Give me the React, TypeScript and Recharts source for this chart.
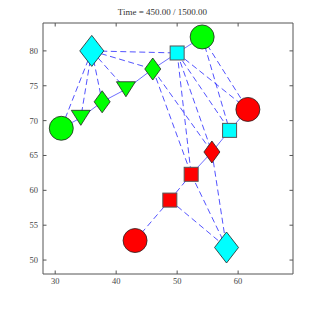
import { ScatterChart, Scatter, XAxis, YAxis } from 'recharts';

// agents (node id, position, marker kind, team colour)
const nodeIds = ['A', 'B', 'C', 'D', 'E', 'F', 'G', 'H', 'I', 'J', 'K', 'L', 'M', 'N', 'O'];
const nodeX = [36.0, 31.0, 34.2, 37.7, 41.6, 46.0, 50.0, 54.1, 61.6, 58.6, 55.7, 52.3, 48.8, 43.1, 58.1];
const nodeY = [80.0, 68.9, 70.4, 72.7, 74.5, 77.4, 79.7, 82.0, 71.6, 68.6, 65.5, 62.3, 58.6, 52.8, 51.8];
const nodeShape = ['bigDiamond', 'circle', 'triangle', 'diamond', 'triangle', 'diamond', 'square', 'circle', 'circle', 'square', 'diamond', 'square', 'square', 'circle', 'bigDiamond'];
const nodeTeam = ['cyan', 'green', 'green', 'green', 'green', 'green', 'cyan', 'green', 'red', 'cyan', 'red', 'red', 'red', 'red', 'cyan'];

// links between agents
const solidEdges = [
  ['B', 'C'], ['C', 'D'], ['D', 'E'], ['E', 'F'], ['F', 'G'], ['G', 'H'],
  ['L', 'K'], ['K', 'J'], ['J', 'I'],
];
const dashedEdges = [
  ['A', 'B'], ['A', 'C'], ['A', 'D'], ['A', 'E'], ['A', 'F'], ['A', 'G'],
  ['G', 'L'], ['G', 'K'], ['G', 'J'], ['G', 'I'],
  ['F', 'L'], ['F', 'K'],
  ['H', 'J'], ['H', 'I'],
  ['N', 'M'], ['M', 'L'],
  ['M', 'O'], ['L', 'O'], ['K', 'O'],
];

const xTicks = [30, 40, 50, 60];
const yTicks = [50, 55, 60, 65, 70, 75, 80];
const title = 'Time = 450.00 / 1500.00';

const teamColors: Record<string, string> = { green: '#00ff00', cyan: '#00ffff', red: '#ff0000' };
const frame = '#555';
const edgeColor = '#1a1aff';
const font = '"Liberation Serif", "DejaVu Serif", serif';

const nodes = nodeIds.map((id, i) => ({
  id,
  x: nodeX[i],
  y: nodeY[i],
  shape: nodeShape[i],
  team: nodeTeam[i],
}));

const pt = (id: string) => nodes.find((n) => n.id === id)!;

const NodeMarker = (props: any) => {
  const { cx, cy, payload } = props;
  const fill = teamColors[payload.team];
  const stroke = '#222';
  switch (payload.shape) {
    case 'circle':
      return <circle cx={cx} cy={cy} r={12} fill={fill} stroke={stroke} strokeWidth={0.8} />;
    case 'square':
      return <rect x={cx - 7} y={cy - 7} width={14} height={14} fill={fill} stroke="#555" strokeWidth={1} />;
    case 'triangle':
      return (
        <polygon
          points={`${cx - 9.5},${cy - 7.5} ${cx + 9.5},${cy - 7.5} ${cx},${cy + 7.5}`}
          fill={fill}
          stroke={stroke}
          strokeWidth={0.8}
        />
      );
    case 'bigDiamond':
      return (
        <polygon
          points={`${cx},${cy - 15.5} ${cx + 12},${cy} ${cx},${cy + 15.5} ${cx - 12},${cy}`}
          fill={fill}
          stroke={stroke}
          strokeWidth={0.8}
        />
      );
    default:
      return (
        <polygon
          points={`${cx},${cy - 11} ${cx + 8},${cy} ${cx},${cy + 11} ${cx - 8},${cy}`}
          fill={fill}
          stroke={stroke}
          strokeWidth={0.8}
        />
      );
  }
};

const NoMarker = () => <g />;

const BottomTick = (props: any) => {
  const { x, y, payload } = props;
  return (
    <g>
      <line x1={x} x2={x} y1={y - 10} y2={y - 13.5} stroke={frame} />
      <text x={x} y={y} textAnchor="middle" fontSize={8.5} fill="#444" fontFamily={font}>
        {payload.value}
      </text>
    </g>
  );
};

const LeftTick = (props: any) => {
  const { x, y, payload } = props;
  return (
    <g>
      <line x1={x + 5} x2={x + 8.5} y1={y} y2={y} stroke={frame} />
      <text x={x} y={y + 3} textAnchor="end" fontSize={8.5} fill="#444" fontFamily={font}>
        {payload.value}
      </text>
    </g>
  );
};

const TopTick = (props: any) => {
  const { x, y } = props;
  return <line x1={x} x2={x} y1={y} y2={y + 3.5} stroke={frame} />;
};

const RightTick = (props: any) => {
  const { x, y } = props;
  return <line x1={x} x2={x - 3.5} y1={y} y2={y} stroke={frame} />;
};

export default function App() {
  return (
    <div style={{ position: 'absolute', left: 0, top: 0, width: 325, height: 309, background: '#fff' }}>
      <div
        style={{
          position: 'absolute',
          left: 0,
          top: 7,
          width: 325,
          textAlign: 'center',
          fontFamily: font,
          fontSize: 9,
          lineHeight: '10px',
          color: '#333',
        }}
      >
        {title}
      </div>
      <ScatterChart width={325} height={309} margin={{ top: 22, right: 31, bottom: 15, left: 13 }}>
        <XAxis
          dataKey="x"
          type="number"
          domain={[28, 69]}
          ticks={xTicks}
          height={20}
          tickSize={0}
          tickMargin={10}
          tickLine={false}
          axisLine={{ stroke: frame }}
          tick={BottomTick}
          allowDataOverflow
        />
        <XAxis
          xAxisId="top"
          orientation="top"
          dataKey="x"
          type="number"
          domain={[28, 69]}
          ticks={xTicks}
          height={1}
          tickSize={0}
          tickMargin={0}
          tickLine={false}
          axisLine={{ stroke: frame }}
          tick={TopTick}
          allowDataOverflow
        />
        <YAxis
          dataKey="y"
          type="number"
          domain={[48, 84]}
          ticks={yTicks}
          width={30}
          tickSize={0}
          tickMargin={5}
          tickLine={false}
          axisLine={{ stroke: frame }}
          tick={LeftTick}
          allowDataOverflow
        />
        <YAxis
          yAxisId="right"
          orientation="right"
          dataKey="y"
          type="number"
          domain={[48, 84]}
          ticks={yTicks}
          width={1}
          tickSize={0}
          tickMargin={0}
          tickLine={false}
          axisLine={{ stroke: frame }}
          tick={RightTick}
          allowDataOverflow
        />
        <Scatter
          xAxisId="top"
          yAxisId="right"
          data={nodes}
          shape={NoMarker}
          isAnimationActive={false}
        />
        {solidEdges.map(([a, b], i) => (
          <Scatter
            key={`s${i}`}
            data={[pt(a), pt(b)]}
            line={{ stroke: edgeColor, strokeWidth: 0.9, strokeOpacity: 0.7 }}
            lineType="joint"
            shape={NoMarker}
            isAnimationActive={false}
          />
        ))}
        {dashedEdges.map(([a, b], i) => (
          <Scatter
            key={`d${i}`}
            data={[pt(a), pt(b)]}
            line={{ stroke: edgeColor, strokeWidth: 1, strokeOpacity: 0.75, strokeDasharray: '6 3.5' }}
            lineType="joint"
            shape={NoMarker}
            isAnimationActive={false}
          />
        ))}
        <Scatter data={nodes} shape={NodeMarker} isAnimationActive={false} />
      </ScatterChart>
    </div>
  );
}
